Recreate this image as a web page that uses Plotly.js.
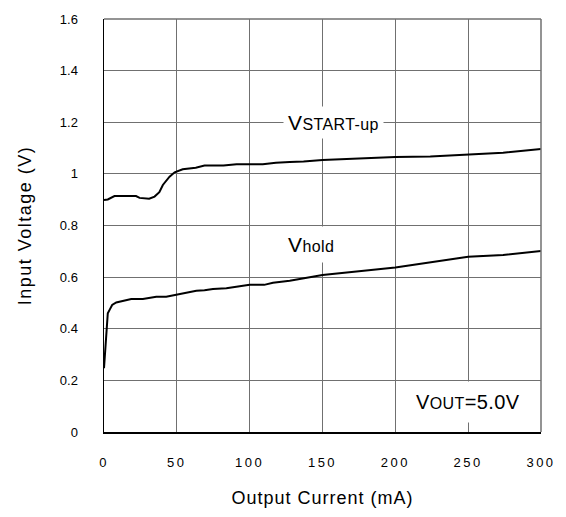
<!DOCTYPE html>
<html>
<head>
<meta charset="utf-8">
<script src="https://cdn.plot.ly/plotly-3.0.1.min.js"></script>
<style>
  html, body { margin: 0; padding: 0; background: #fff; }
  #chart { width: 566px; height: 517px; }
  .xtick text { letter-spacing: 2.5px; }
  .xtitle { letter-spacing: 1px; }
  .ytitle { letter-spacing: 1.5px; }
  .annotation-text { letter-spacing: 0.4px; }
</style>
</head>
<body>
<div id="chart"></div>
<script>
// Output current (mA) vs input voltage (V)
const startupCurrent = [0, 2.6, 7.2, 15, 22, 24.4, 28, 31, 34.7, 38, 40.4, 43, 45, 48.5, 54, 63, 69, 82, 91, 109, 118, 127.5, 137, 150, 175, 200, 224, 250, 274, 300];
const startupVoltage = [0.899, 0.901, 0.914, 0.914, 0.914, 0.907, 0.904, 0.904, 0.912, 0.929, 0.957, 0.975, 0.989, 1.006, 1.018, 1.024, 1.032, 1.032, 1.037, 1.037, 1.043, 1.046, 1.048, 1.054, 1.060, 1.065, 1.067, 1.076, 1.082, 1.096];

const holdCurrent = [0, 1.9, 2.6, 4.2, 5.6, 8.4, 13, 18.7, 26.7, 35.9, 42.7, 50, 58.8, 63.4, 69, 74.8, 84, 91, 100, 110, 116, 127.5, 136.6, 150, 200, 250, 274, 300];
const holdVoltage = [0.247, 0.402, 0.460, 0.477, 0.492, 0.502, 0.509, 0.515, 0.515, 0.524, 0.524, 0.532, 0.541, 0.547, 0.549, 0.554, 0.557, 0.563, 0.570, 0.570, 0.578, 0.586, 0.595, 0.608, 0.637, 0.679, 0.686, 0.701];

const xTicks = [0, 50, 100, 150, 200, 250, 300];
const yTicks = [0, 0.2, 0.4, 0.6, 0.8, 1, 1.2, 1.4, 1.6];

const FONT = 'Liberation Sans, Arial, sans-serif';
const lineStyle = { color: '#000', width: 2 };

const traces = [
  { x: startupCurrent, y: startupVoltage, mode: 'lines', line: lineStyle, name: 'VSTART-up', hoverinfo: 'x+y' },
  { x: holdCurrent, y: holdVoltage, mode: 'lines', line: lineStyle, name: 'Vhold', hoverinfo: 'x+y' }
];

const layout = {
  width: 566, height: 517,
  margin: { l: 104, r: 25, t: 19, b: 85 },
  paper_bgcolor: '#fff', plot_bgcolor: '#fff',
  showlegend: false,
  font: { family: FONT, color: '#000', size: 13 },
  xaxis: {
    range: [0, 300], tickvals: xTicks, ticktext: xTicks.map(String),
    showgrid: true, gridcolor: '#707070', gridwidth: 1,
    showline: true, linecolor: '#000', linewidth: 1.5,
    zeroline: false, ticks: '', ticklabelstandoff: 18,
    tickfont: { size: 13, family: FONT },
    title: { text: 'Output Current (mA)', font: { size: 18, family: FONT }, standoff: 22 }
  },
  yaxis: {
    range: [0, 1.6], tickvals: yTicks, ticktext: yTicks.map(String),
    showgrid: true, gridcolor: '#707070', gridwidth: 1,
    showline: true, linecolor: '#000', linewidth: 1.5,
    zeroline: false, ticks: '', ticklabelstandoff: 22,
    tickfont: { size: 13, family: FONT },
    title: { text: 'Input Voltage (V)', font: { size: 18, family: FONT }, standoff: 23 }
  },
  shapes: [
    { type: 'line', xref: 'paper', yref: 'paper', x0: 0, x1: 1, y0: 1, y1: 1, line: { color: '#707070', width: 1.5 } },
    { type: 'line', xref: 'paper', yref: 'paper', x0: 1, x1: 1, y0: 0, y1: 1, line: { color: '#707070', width: 1.5 } }
  ],
  annotations: [
    { x: 157.4, y: 1.2, xref: 'x', yref: 'y', showarrow: false,
      text: 'V<span style="font-size:16px">START-up</span>',
      font: { size: 21, family: FONT, color: '#000' }, bgcolor: '#fff', borderpad: 4 },
    { x: 141.9, y: 0.726, xref: 'x', yref: 'y', showarrow: false,
      text: 'V<span style="font-size:16px">hold</span>',
      font: { size: 21, family: FONT, color: '#000' }, bgcolor: '#fff', borderpad: 6 },
    { x: 250, y: 0.118, xref: 'x', yref: 'y', showarrow: false,
      text: 'V<span style="font-size:16px">OUT</span>=5.0V',
      font: { size: 20, family: FONT, color: '#000' }, bgcolor: '#fff', borderpad: 9 }
  ]
};

Plotly.newPlot('chart', traces, layout, { displayModeBar: false, staticPlot: true });
</script>
</body>
</html>
